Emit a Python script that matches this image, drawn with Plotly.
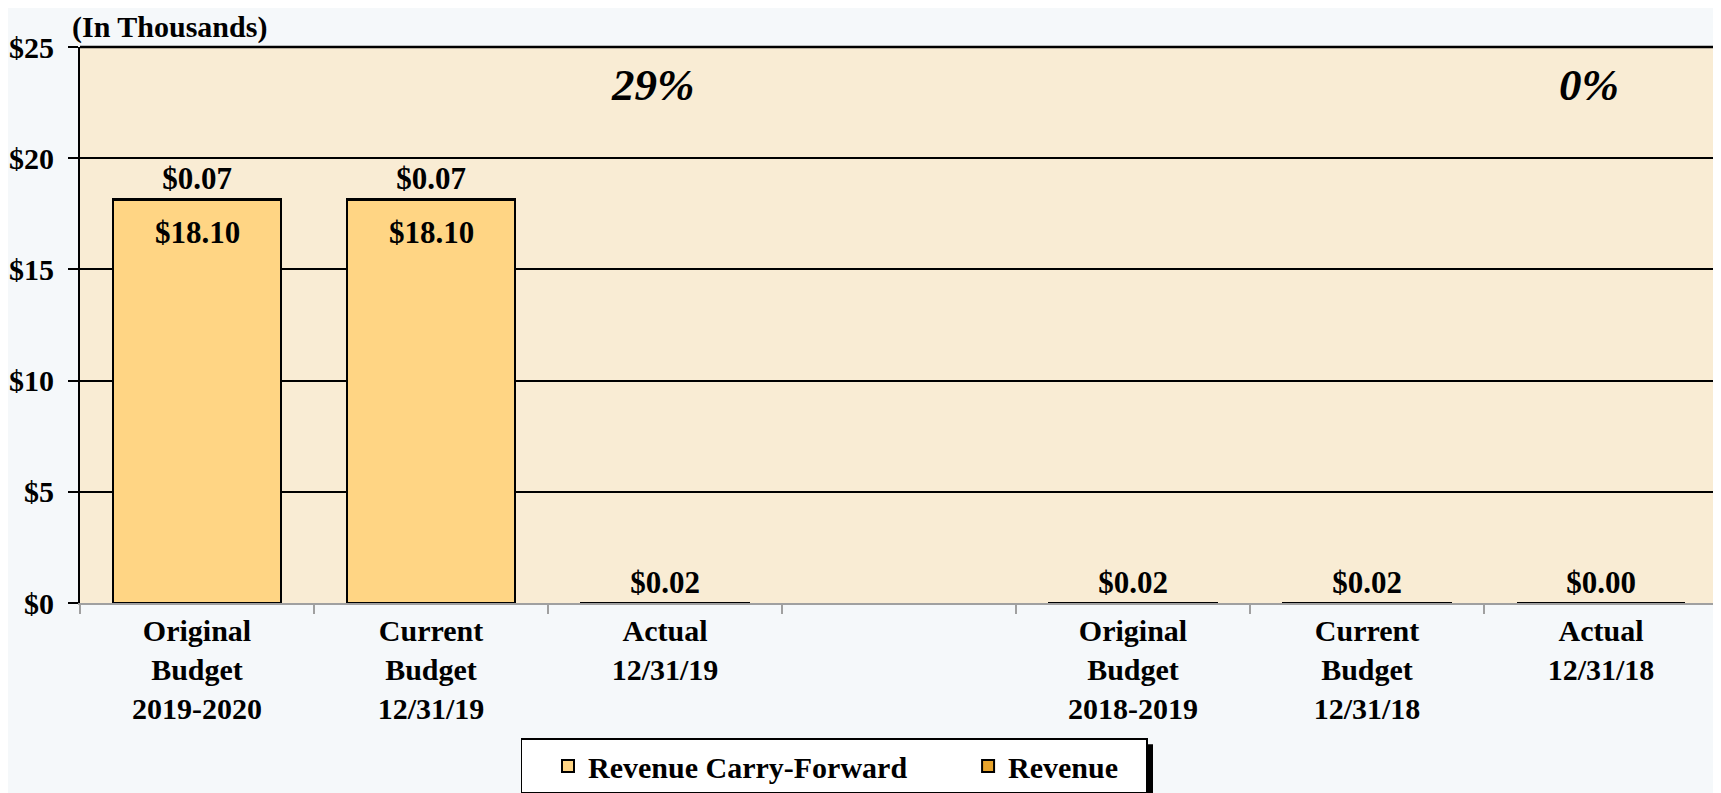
import plotly.graph_objects as go

categories = [
    'Original<br>Budget<br>2019-2020',
    'Current<br>Budget<br>12/31/19',
    'Actual<br>12/31/19',
    ' ',
    'Original<br>Budget<br>2018-2019',
    'Current<br>Budget<br>12/31/18',
    'Actual<br>12/31/18',
]
carry_forward = [18.10, 18.10, None, None, None, None, None]
revenue = [0.07, 0.07, 0.02, None, 0.02, 0.02, 0.00]
pct_labels = ['29%', '0%']
pct_at = ['Actual<br>12/31/19', 'Actual<br>12/31/18']

FONT = 'Liberation Serif'
# page body has an 8px margin, so the figure is a bit smaller than the window
W, H = 1713, 785
M_L, M_R, M_T, M_B = 72, 3, 39, 189.5
PLOT_W = W - M_L - M_R
PLOT_H = H - M_T - M_B
NBSP = '&nbsp;'


def money(vals):
    return ['' if v is None else f'${v:.2f}' for v in vals]


def px_to_paper(x, y):
    return (x - M_L) / PLOT_W, (H - M_B - y) / PLOT_H


fig = go.Figure()
fig.add_trace(
    go.Bar(
        x=categories,
        y=carry_forward,
        name='Revenue Carry-Forward' + NBSP * 4,
        marker={'color': '#FFD584', 'line': {'color': 'black', 'width': 2}},
        hoverinfo='skip',
    )
)
fig.add_trace(
    go.Bar(
        x=categories,
        y=revenue,
        name='Revenue' + NBSP * 3,
        marker={'color': '#E8A42C', 'line': {'color': 'black', 'width': 2}},
        text=money(revenue),
        textposition='outside',
        textfont={'family': FONT, 'size': 31, 'color': 'black', 'weight': 'bold'},
        cliponaxis=False,
        hoverinfo='skip',
    )
)

# carry-forward labels sit just inside the top of each bar
for cat, val, txt in zip(categories, carry_forward, money(carry_forward)):
    if val is None:
        continue
    fig.add_annotation(
        x=cat, y=val, xref='x', yref='y', yanchor='top', yshift=-13,
        text=txt, showarrow=False,
        font={'family': FONT, 'size': 31, 'color': 'black', 'weight': 'bold'},
    )

for label, cat in zip(pct_labels, pct_at):
    fig.add_annotation(
        x=cat, y=23.3, xref='x', yref='y',
        text=f'<i>{label}</i>', showarrow=False, xshift=-12,
        font={'family': FONT, 'size': 45, 'color': 'black', 'weight': 'bold'},
    )

fig.add_annotation(
    x=0, y=1, xref='paper', yref='paper', xanchor='left', yanchor='middle',
    xshift=-10, yshift=20, text='(In Thousands)', showarrow=False,
    font={'family': FONT, 'size': 30, 'color': 'black', 'weight': 'bold'},
)

# top frame line of the plot area
fig.add_shape(type='line', xref='paper', yref='paper', x0=0, x1=1, y0=1, y1=1,
              line={'color': 'black', 'width': 2.5})

# drop shadow behind the legend box
sx0, sy0 = px_to_paper(518, 737)
sx1, sy1 = px_to_paper(1145, 787)
fig.add_shape(type='rect', xref='paper', yref='paper', x0=sx0, x1=sx1, y0=sy0, y1=sy1,
              fillcolor='black', line={'width': 0})

lx, ly = px_to_paper(826, 731)

fig.update_layout(
    width=W, height=H,
    margin={'l': M_L, 'r': M_R, 't': M_T, 'b': M_B, 'autoexpand': False},
    paper_bgcolor='#F5F8FA',
    plot_bgcolor='#F9ECD4',
    barmode='stack',
    bargap=0.286,
    font={'family': FONT, 'size': 30, 'color': 'black', 'weight': 'bold'},
    showlegend=True,
    legend={
        'orientation': 'h', 'x': lx, 'xanchor': 'center', 'y': ly, 'yanchor': 'top',
        'traceorder': 'normal', 'itemwidth': 30, 'indentation': 26,
        'bgcolor': 'white', 'bordercolor': 'black', 'borderwidth': 1.5,
        'font': {'family': FONT, 'size': 30, 'color': 'black', 'weight': 'bold'},
    },
    xaxis={
        'type': 'category', 'tickson': 'boundaries', 'ticks': 'outside', 'ticklen': 9,
        'tickcolor': '#A0A0A0', 'tickwidth': 2, 'showline': True, 'linecolor': '#A0A0A0',
        'linewidth': 2, 'showgrid': False, 'tickangle': 0,
        'tickfont': {'family': FONT, 'size': 30, 'color': 'black', 'weight': 'bold'},
    },
    yaxis={
        'range': [0, 25], 'dtick': 5, 'tickprefix': '$', 'ticks': 'outside', 'ticklen': 10,
        'tickcolor': 'black', 'tickwidth': 2, 'showline': True, 'linecolor': 'black',
        'linewidth': 2, 'showgrid': True, 'gridcolor': 'black', 'gridwidth': 1.5,
        'zeroline': False, 'ticklabelstandoff': 8,
        'tickfont': {'family': FONT, 'size': 30, 'color': 'black', 'weight': 'bold'},
    },
)

fig.write_html('out.html')
